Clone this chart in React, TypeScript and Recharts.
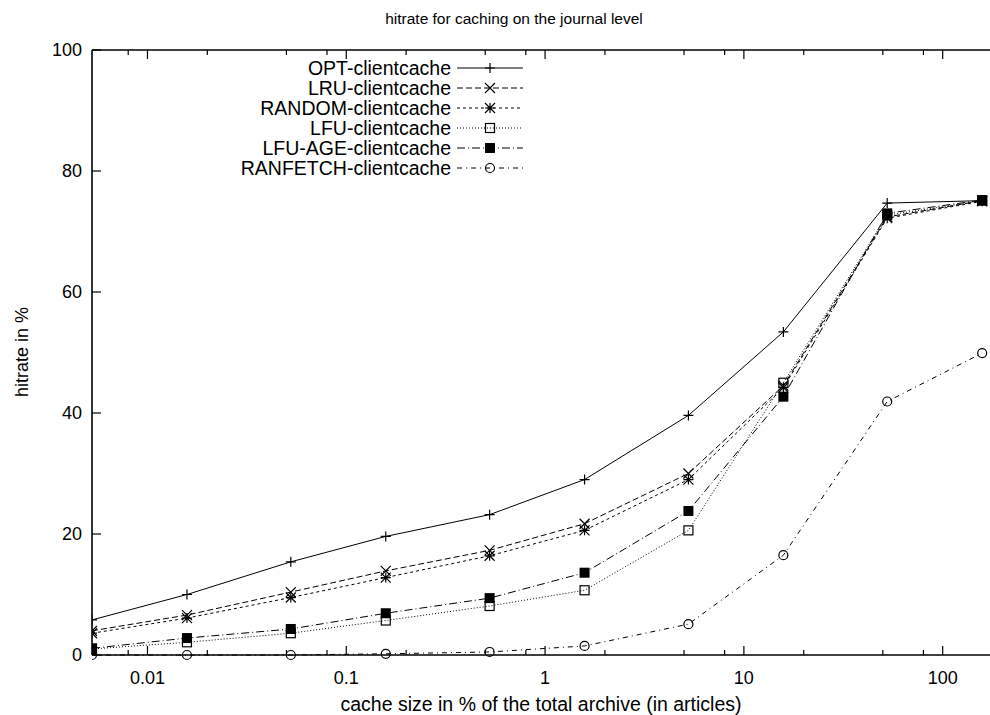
import React from "react";
import { Line, LineChart, ReferenceLine, XAxis, YAxis } from "recharts";

// cache size in % of the archive (1, 3, 10, ... 30000 articles)
const cacheSize = [0.00526, 0.0158, 0.0526, 0.158, 0.526, 1.58, 5.26, 15.8, 52.6, 158];

const optHits = [5.8, 10.0, 15.4, 19.6, 23.2, 29.0, 39.6, 53.4, 74.7, 75.1];
const lruHits = [4.0, 6.6, 10.4, 13.9, 17.3, 21.7, 30.0, 44.5, 72.4, 75.1];
const randomHits = [3.6, 6.1, 9.5, 12.8, 16.4, 20.6, 29.0, 44.2, 72.2, 75.0];
const lfuHits = [1.0, 2.1, 3.6, 5.7, 8.1, 10.7, 20.6, 45.0, 72.7, 75.1];
const lfuAgeHits = [1.1, 2.8, 4.3, 6.9, 9.4, 13.6, 23.8, 42.7, 73.0, 75.2];
const ranfetchHits = [0, 0, 0, 0.2, 0.5, 1.5, 5.1, 16.5, 41.9, 49.9];

const xMajorTicks = [0.01, 0.1, 1, 10, 100];
const xMinorTicks = [0.008, 0.02, 0.05, 0.08, 0.2, 0.5, 0.8, 2, 5, 8, 20, 50, 80];
const yTicks = [0, 20, 40, 60, 80, 100];

const FONT = "'Liberation Sans', Arial, Helvetica, sans-serif";
const W = 990;
const H = 715;
const PLOT_LEFT = 92;
const PLOT_TOP = 50;
const PLOT_BOTTOM = 655;

type Shape = "plus" | "cross" | "star" | "box" | "boxFilled" | "circle";

const series: { key: string; name: string; values: number[]; dash?: string; shape: Shape }[] = [
  { key: "opt", name: "OPT-clientcache", values: optHits, shape: "plus" },
  { key: "lru", name: "LRU-clientcache", values: lruHits, dash: "6 3", shape: "cross" },
  { key: "random", name: "RANDOM-clientcache", values: randomHits, dash: "3 3", shape: "star" },
  { key: "lfu", name: "LFU-clientcache", values: lfuHits, dash: "1 2", shape: "box" },
  { key: "lfuAge", name: "LFU-AGE-clientcache", values: lfuAgeHits, dash: "8 3 1 3", shape: "boxFilled" },
  { key: "ranfetch", name: "RANFETCH-clientcache", values: ranfetchHits, dash: "5 4 1 4", shape: "circle" },
];

const rows = cacheSize.map((x, i) => {
  const row: Record<string, number> = { x };
  series.forEach((s) => (row[s.key] = s.values[i]));
  return row;
});

function Marker({ cx, cy, shape }: { cx: number; cy: number; shape: Shape }) {
  const r = 5;
  const plus = `M${cx - r},${cy}H${cx + r}M${cx},${cy - r}V${cy + r}`;
  const cross = `M${cx - r},${cy - r}L${cx + r},${cy + r}M${cx - r},${cy + r}L${cx + r},${cy - r}`;
  switch (shape) {
    case "plus":
      return <path d={plus} stroke="#000" strokeWidth={1.2} fill="none" />;
    case "cross":
      return <path d={cross} stroke="#000" strokeWidth={1.2} fill="none" />;
    case "star":
      return <path d={plus + cross} stroke="#000" strokeWidth={1.2} fill="none" />;
    case "box":
      return <rect x={cx - 4.5} y={cy - 4.5} width={9} height={9} stroke="#000" strokeWidth={1.2} fill="none" />;
    case "boxFilled":
      return <rect x={cx - 5} y={cy - 5} width={10} height={10} fill="#000" />;
    default:
      return <circle cx={cx} cy={cy} r={4.5} stroke="#000" strokeWidth={1.2} fill="none" />;
  }
}

function XTick(props: any) {
  const { x, payload } = props;
  const major = xMajorTicks.includes(payload.value);
  const len = major ? 9 : 5;
  return (
    <g>
      <line x1={x} x2={x} y1={PLOT_BOTTOM} y2={PLOT_BOTTOM - len} stroke="#000" strokeWidth={1.2} />
      <line x1={x} x2={x} y1={PLOT_TOP} y2={PLOT_TOP + len} stroke="#000" strokeWidth={1.2} />
      {major && (
        <text x={x} y={PLOT_BOTTOM + 23} textAnchor="middle" dominantBaseline="central" fontSize={18} fontFamily={FONT} fill="#000">
          {payload.value}
        </text>
      )}
    </g>
  );
}

function YTick(props: any) {
  const { y, payload } = props;
  return (
    <g>
      <line x1={PLOT_LEFT} x2={PLOT_LEFT + 9} y1={y} y2={y} stroke="#000" strokeWidth={1.2} />
      <text x={PLOT_LEFT - 10} y={y} textAnchor="end" dominantBaseline="central" fontSize={18} fontFamily={FONT} fill="#000">
        {payload.value}
      </text>
    </g>
  );
}

// title, axis titles and the key box drawn over the chart
function KeyBox() {
  const rowY = (i: number) => 68 + i * 20;
  return (
    <svg width={W} height={H} style={{ position: "absolute", left: 0, top: 0, pointerEvents: "none" }}>
      <text x={514} y={18} textAnchor="middle" dominantBaseline="central" fontSize={15.5} fontFamily={FONT}>
        hitrate for caching on the journal level
      </text>
      <text x={541} y={704} textAnchor="middle" dominantBaseline="central" fontSize={19.5} fontFamily={FONT}>
        cache size in % of the total archive (in articles)
      </text>
      <text
        x={22}
        y={352}
        textAnchor="middle"
        dominantBaseline="central"
        fontSize={18}
        fontFamily={FONT}
        transform="rotate(-90 22 352)"
      >
        hitrate in %
      </text>
      {series.map((s, i) => (
        <g key={s.key}>
          <text x={451} y={rowY(i)} textAnchor="end" dominantBaseline="central" fontSize={19.5} fontFamily={FONT}>
            {s.name}
          </text>
          <line x1={457} x2={523} y1={rowY(i)} y2={rowY(i)} stroke="#000" strokeWidth={1} strokeDasharray={s.dash} />
          <Marker cx={490} cy={rowY(i)} shape={s.shape} />
        </g>
      ))}
    </svg>
  );
}

export default function App() {
  return (
    <div style={{ position: "absolute", left: 0, top: 0, width: W, height: H, overflow: "hidden", background: "#fff" }}>
      <LineChart width={W + 2} height={H} data={rows} margin={{ top: PLOT_TOP, right: 1, bottom: 0, left: 0 }}>
        <XAxis
          dataKey="x"
          type="number"
          scale="log"
          domain={[0.00526, 175]}
          allowDataOverflow
          ticks={[...xMajorTicks, ...xMinorTicks]}
          interval={0}
          height={H - PLOT_BOTTOM}
          tickLine={false}
          axisLine={{ stroke: "#000", strokeWidth: 1.6 }}
          tick={<XTick />}
        />
        <YAxis
          type="number"
          domain={[0, 100]}
          ticks={yTicks}
          interval={0}
          width={PLOT_LEFT}
          tickLine={false}
          axisLine={{ stroke: "#000", strokeWidth: 1.6 }}
          tick={<YTick />}
        />
        <ReferenceLine y={100} stroke="#000" strokeWidth={1.6} />
        {series.map((s) => (
          <Line
            key={s.key}
            dataKey={s.key}
            type="linear"
            stroke="#000"
            strokeWidth={1}
            strokeDasharray={s.dash}
            isAnimationActive={false}
            activeDot={false}
            dot={(p: any) => <Marker key={`${s.key}-${p.index}`} cx={p.cx} cy={p.cy} shape={s.shape} />}
          />
        ))}
      </LineChart>
      <KeyBox />
    </div>
  );
}
